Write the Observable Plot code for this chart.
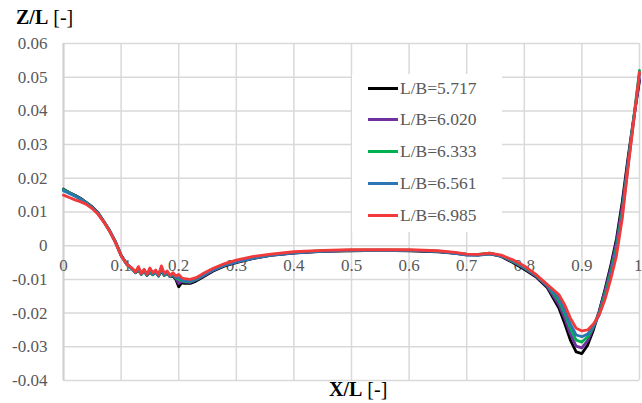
<!DOCTYPE html>
<html>
<head>
<meta charset="utf-8">
<script src="https://cdn.jsdelivr.net/npm/d3@7"></script>
<script src="https://cdn.jsdelivr.net/npm/@observablehq/plot@0.6"></script>
<style>
  html, body { margin: 0; padding: 0; background: #fff; }
  #wrap { position: relative; width: 642px; height: 403px; font-family: "Liberation Serif", "Times New Roman", serif; }
  #wrap svg { position: absolute; left: 0; top: 0; }
  .ttl { position: absolute; font-size: 20px; color: #000; white-space: nowrap; }
  .ttl b { font-weight: bold; }
  #legend { position: absolute; left: 352px; top: 74px; width: 150px; height: 158px; background: #fff; }
  .li { position: absolute; left: 16px; height: 20px; display: flex; align-items: center; font-size: 17.5px; color: #595959; }
  .sw { width: 30px; height: 3px; margin-right: 2px; }
</style>
</head>
<body>
<div id="wrap"></div>
<script>
const seriesNames = ["L/B=5.717", "L/B=6.020", "L/B=6.333", "L/B=6.561", "L/B=6.985"];
const seriesColors = ["#000000", "#7030a0", "#00b050", "#2e75b6", "#f23a3a"];

const xs = [0, 0.01, 0.02, 0.03, 0.04, 0.05, 0.06, 0.07, 0.08, 0.09,
  0.10, 0.11, 0.12,
  0.125, 0.13, 0.135, 0.14, 0.145, 0.15, 0.155, 0.16, 0.165, 0.17, 0.175, 0.18, 0.185, 0.19, 0.195,
  0.2, 0.205, 0.21, 0.22, 0.23, 0.24,
  0.26, 0.28, 0.3, 0.33, 0.36, 0.4,
  0.45, 0.5, 0.55, 0.6, 0.65, 0.68, 0.7, 0.72, 0.74, 0.76, 0.78, 0.8,
  0.82, 0.84, 0.86, 0.87, 0.88, 0.89, 0.9,
  0.91, 0.92, 0.93, 0.94, 0.95, 0.96, 0.97, 0.98, 0.99, 1.0];

const yLB5717 = [0.0168, 0.0158, 0.0150, 0.0140, 0.0128, 0.0115, 0.0098, 0.0072, 0.0045, 0.0012,
  -0.0028, -0.0055, -0.0070,
  -0.0080, -0.0072, -0.0085, -0.0076, -0.0088, -0.0078, -0.0086, -0.0078, -0.0090, -0.0075, -0.0088, -0.0082, -0.0092, -0.0090, -0.0100,
  -0.0122, -0.0110, -0.0112, -0.0112, -0.0105, -0.0095,
  -0.0075, -0.0060, -0.0050, -0.0038, -0.0029, -0.0022,
  -0.0017, -0.0015, -0.0014, -0.0015, -0.0018, -0.0023, -0.0027, -0.0027, -0.0024, -0.0032, -0.0050, -0.0070,
  -0.0092, -0.0125, -0.0185, -0.0230, -0.0280, -0.0315, -0.0320,
  -0.0295, -0.0250, -0.0195, -0.0130, -0.0060, 0.0020, 0.0130, 0.0260, 0.0380, 0.0490];

const yLB6020 = [0.0166, 0.0157, 0.0149, 0.0139, 0.0127, 0.0114, 0.0097, 0.0072, 0.0045, 0.0012,
  -0.0028, -0.0055, -0.0070,
  -0.0079, -0.0070, -0.0084, -0.0075, -0.0087, -0.0076, -0.0085, -0.0077, -0.0089, -0.0072, -0.0087, -0.0080, -0.0091, -0.0087, -0.0097,
  -0.0112, -0.0106, -0.0108, -0.0109, -0.0102, -0.0093,
  -0.0073, -0.0058, -0.0049, -0.0037, -0.0028, -0.0021,
  -0.0016, -0.0014, -0.0013, -0.0014, -0.0017, -0.0022, -0.0026, -0.0027, -0.0023, -0.0031, -0.0048, -0.0067,
  -0.0090, -0.0122, -0.0175, -0.0215, -0.0262, -0.0298, -0.0303,
  -0.0282, -0.0243, -0.0195, -0.0135, -0.0068, 0.0010, 0.0118, 0.0250, 0.0375, 0.0495];

const yLB6333 = [0.0166, 0.0157, 0.0148, 0.0138, 0.0126, 0.0113, 0.0096, 0.0071, 0.0044, 0.0011,
  -0.0029, -0.0056, -0.0071,
  -0.0080, -0.0068, -0.0085, -0.0073, -0.0088, -0.0074, -0.0086, -0.0076, -0.0090, -0.0070, -0.0088, -0.0079, -0.0092, -0.0086, -0.0095,
  -0.0100, -0.0103, -0.0106, -0.0107, -0.0100, -0.0091,
  -0.0071, -0.0057, -0.0047, -0.0036, -0.0027, -0.0020,
  -0.0015, -0.0013, -0.0013, -0.0013, -0.0016, -0.0021, -0.0025, -0.0026, -0.0022, -0.0030, -0.0046, -0.0065,
  -0.0088, -0.0118, -0.0163, -0.0200, -0.0245, -0.0280, -0.0286,
  -0.0270, -0.0240, -0.0200, -0.0145, -0.0080, -0.0005, 0.0100, 0.0240, 0.0380, 0.0520];

const yLB6561 = [0.0163, 0.0155, 0.0147, 0.0137, 0.0125, 0.0112, 0.0095, 0.0071, 0.0044, 0.0011,
  -0.0029, -0.0056, -0.0070,
  -0.0079, -0.0066, -0.0084, -0.0072, -0.0087, -0.0070, -0.0084, -0.0075, -0.0089, -0.0066, -0.0086, -0.0078, -0.0091, -0.0084, -0.0094,
  -0.0095, -0.0100, -0.0104, -0.0105, -0.0099, -0.0090,
  -0.0072, -0.0058, -0.0048, -0.0037, -0.0028, -0.0021,
  -0.0016, -0.0014, -0.0014, -0.0014, -0.0017, -0.0023, -0.0028, -0.0029, -0.0024, -0.0030, -0.0044, -0.0063,
  -0.0087, -0.0117, -0.0155, -0.0190, -0.0232, -0.0265, -0.0270,
  -0.0262, -0.0238, -0.0205, -0.0155, -0.0090, -0.0015, 0.0090, 0.0235, 0.0375, 0.0510];

const yLB6985 = [0.0150, 0.0143, 0.0136, 0.0130, 0.0122, 0.0110, 0.0093, 0.0070, 0.0043, 0.0010,
  -0.0030, -0.0055, -0.0068,
  -0.0078, -0.0062, -0.0082, -0.0070, -0.0085, -0.0066, -0.0080, -0.0072, -0.0086, -0.0060, -0.0082, -0.0075, -0.0088, -0.0080, -0.0090,
  -0.0085, -0.0095, -0.0098, -0.0100, -0.0095, -0.0085,
  -0.0067, -0.0053, -0.0043, -0.0032, -0.0025, -0.0018,
  -0.0014, -0.0012, -0.0012, -0.0012, -0.0015, -0.0020, -0.0025, -0.0026, -0.0022, -0.0028, -0.0042, -0.0060,
  -0.0085, -0.0115, -0.0145, -0.0175, -0.0215, -0.0245, -0.0253,
  -0.0250, -0.0232, -0.0205, -0.0160, -0.0100, -0.0030, 0.0080, 0.0230, 0.0370, 0.0515];

const xTicks = [0, 0.1, 0.2, 0.3, 0.4, 0.5, 0.6, 0.7, 0.8, 0.9, 1];
const xTickLabels = ["0", "0.1", "0.2", "0.3", "0.4", "0.5", "0.6", "0.7", "0.8", "0.9", "1"];
const yTicks = [-0.04, -0.03, -0.02, -0.01, 0, 0.01, 0.02, 0.03, 0.04, 0.05, 0.06];
const yTickLabels = ["-0.04", "-0.03", "-0.02", "-0.01", "0", "0.01", "0.02", "0.03", "0.04", "0.05", "0.06"];

const allY = [yLB5717, yLB6020, yLB6333, yLB6561, yLB6985];
const rows = [];
seriesNames.forEach((name, i) => {
  xs.forEach((x, j) => rows.push({series: name, x, y: allY[i][j]}));
});
const xLabelRows = xTicks.map((t, i) => ({x: t, label: xTickLabels[i]}));
const xLabelInner = xLabelRows.slice(0, -1);
const xLabelLast = xLabelRows.slice(-1);

const serif = "'Liberation Serif', 'Times New Roman', serif";

const chart = Plot.plot({
  width: 642,
  height: 403,
  marginLeft: 63,
  marginRight: 3,
  marginTop: 43,
  marginBottom: 23,
  style: {fontFamily: serif, background: "#fff"},
  x: {domain: [0, 1], axis: null},
  y: {domain: [-0.04, 0.06], axis: null},
  color: {domain: seriesNames, range: seriesColors},
  marks: [
    Plot.gridY(yTicks, {stroke: "#d9d9d9", strokeOpacity: 1, strokeWidth: 1.5}),
    Plot.gridX(xTicks, {stroke: "#d9d9d9", strokeOpacity: 1, strokeWidth: 1.5}),
    Plot.ruleX([0], {stroke: "#cfcfcf", strokeWidth: 2}),
    Plot.axisY(yTicks, {
      tickSize: 0, tickPadding: 16, fontSize: 17, fill: "#595959",
      tickFormat: (d) => yTickLabels[yTicks.indexOf(d)], label: null
    }),
    Plot.text(xLabelInner, {
      x: "x", y: () => 0, text: "label", dy: 20, fontSize: 17, fill: "#595959", fontFamily: serif
    }),
    Plot.text(xLabelLast, {
      x: "x", y: () => 0, text: "label", dy: 20, dx: 3, textAnchor: "end", fontSize: 17, fill: "#595959", fontFamily: serif
    }),
    Plot.line(rows, {x: "x", y: "y", z: "series", stroke: "series", strokeWidth: 2.8, curve: "linear"})
  ]
});

const wrap = document.getElementById("wrap");
wrap.appendChild(chart);

const yTitle = document.createElement("div");
yTitle.className = "ttl";
yTitle.style.left = "16px";
yTitle.style.top = "6px";
yTitle.innerHTML = "<b>Z/L</b> [-]";
wrap.appendChild(yTitle);

const xTitle = document.createElement("div");
xTitle.className = "ttl";
xTitle.style.left = "329px";
xTitle.style.top = "378px";
xTitle.innerHTML = "<b>X/L</b> [-]";
wrap.appendChild(xTitle);

const legend = document.createElement("div");
legend.id = "legend";
seriesNames.forEach((name, i) => {
  const item = document.createElement("div");
  item.className = "li";
  item.style.top = (4 + i * 31.8) + "px";
  const sw = document.createElement("span");
  sw.className = "sw";
  sw.style.background = seriesColors[i];
  const tx = document.createElement("span");
  tx.textContent = name;
  item.appendChild(sw);
  item.appendChild(tx);
  legend.appendChild(item);
});
wrap.appendChild(legend);
</script>
</body>
</html>
